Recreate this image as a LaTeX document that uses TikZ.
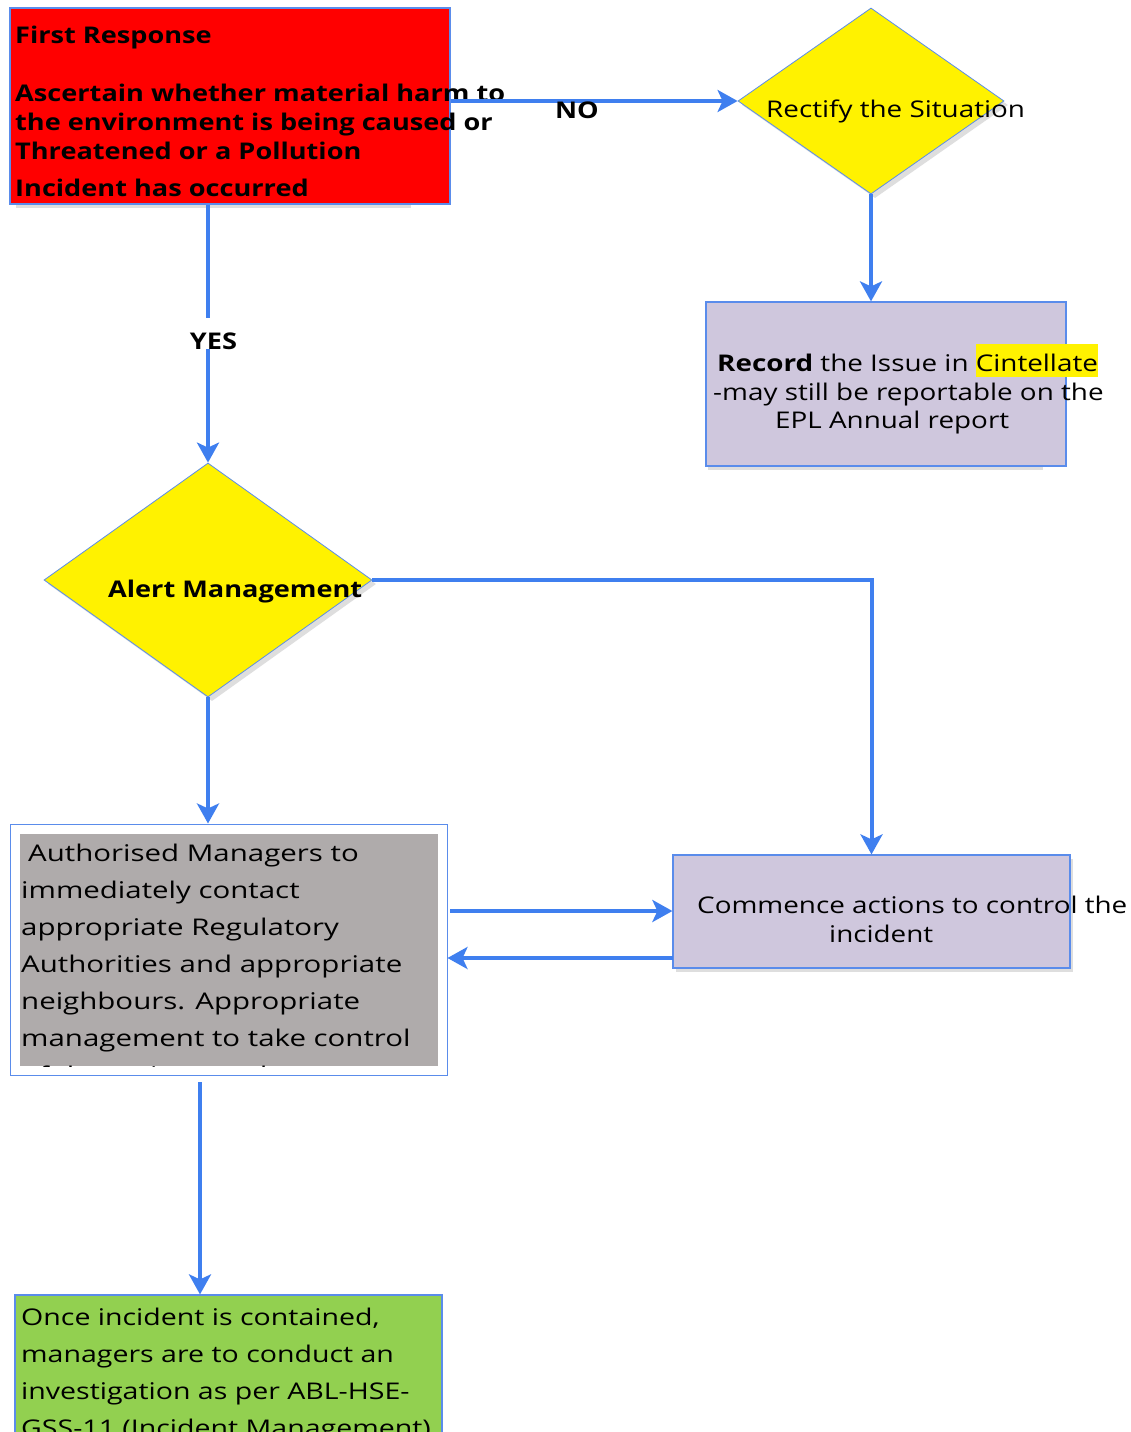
\documentclass[tikz,border=0pt]{standalone}
\usepackage{fontspec}
\setmainfont{Open Sans}[FakeStretch=1.21]
\newfontfamily\boldfam{Open Sans}[FakeStretch=1.18]
\newfontfamily\authfam{Open Sans}[FakeStretch=1.28]
\newfontfamily\greenfam{Open Sans}[FakeStretch=1.24]
\usetikzlibrary{arrows.meta,shapes.geometric}
\definecolor{lineblue}{HTML}{3F7FEF}
\definecolor{edgeblue}{HTML}{5A8CEB}
\definecolor{lav}{HTML}{CFC7DD}
\definecolor{grayfill}{HTML}{AFABAB}
\definecolor{grn}{HTML}{92D050}
\definecolor{shadowgray}{HTML}{DEDEDE}
\newcommand{\regfont}{\fontsize{23}{29}\selectfont}
\newcommand{\wideregfont}{\fontsize{23}{37}\selectfont}
\begin{document}
\begin{tikzpicture}[x=1pt,y=-1pt,
  conn/.style={draw=lineblue, line width=4pt, -{Stealth[length=20pt,width=22pt,inset=5pt]}},
  boxshape/.style={rectangle, draw=edgeblue, line width=1.2pt, inner sep=0pt},
  shadowbox/.style={rectangle, fill=shadowgray, inner sep=0pt},
  dia/.style={diamond, draw=edgeblue, line width=0.8pt, fill=yellow, inner sep=0pt},
  shadowdia/.style={diamond, fill=shadowgray, inner sep=0pt},
  txt/.style={inner sep=0pt, font=\regfont, anchor=base west},
  boldtxt/.style={inner sep=0pt, font=\regfont\boldfam\bfseries, anchor=base west}]
\useasboundingbox (0,0) rectangle (1130,1432);
\clip (0,0) rectangle (1130,1432);
\fill[white] (0,0) rectangle (1130,1432);

% shadows
\node[shadowbox, minimum width=395, minimum height=196] (redsh) at (213,110) {};
\node[shadowdia, minimum width=266, minimum height=186] (rectsh) at (875,105) {};
\node[shadowbox, minimum width=335, minimum height=164] (recordsh) at (875,388) {};
\node[shadowdia, minimum width=328, minimum height=234] (alertsh) at (212,584) {};
\node[shadowbox, minimum width=397, minimum height=113] (commsh) at (874,915) {};

% shapes
\node[boxshape, fill=red, minimum width=440, minimum height=196] (red) at (230,106) {};
\node[dia, minimum width=266, minimum height=186] (rect) at (871,101) {};
\node[boxshape, fill=lav, minimum width=360, minimum height=164] (record) at (886,384) {};
\node[dia, minimum width=328, minimum height=234] (alert) at (208,580) {};
\node[boxshape, fill=white, line width=1pt, minimum width=437, minimum height=251] (auth) at (228.5,949.5) {};
\node[rectangle, fill=grayfill, inner sep=0pt, minimum width=418, minimum height=232] (authin) at (229,950) {};
\node[boxshape, fill=lav, minimum width=397, minimum height=113] (comm) at (871.5,911.5) {};
\node[boxshape, fill=grn, minimum width=427, minimum height=160] (green) at (228.5,1375) {};

% texts
\node[boldtxt] (t1) at (15,43) {First Response};
\node[boldtxt] (t2) at (15,101) {\begin{tabular}[t]{@{}l@{}}Ascertain whether material harm to\\ the environment is being caused or\\ Threatened or a Pollution\end{tabular}};
\node[boldtxt] (t3) at (15,196) {Incident has occurred};
\node[txt] (t4) at (766,117) {Rectify the Situation};
\node[txt] (t5) at (717,371) {\textbf{Record} the Issue in {\setlength{\fboxsep}{0pt}\colorbox{yellow}{\rule[-6pt]{0pt}{33pt}Cintellate}}};
\node[txt] (t6) at (713,400) {-may still be reportable on the};
\node[txt] (t7) at (775,428) {EPL Annual report};
\node[boldtxt] (t8) at (108,597) {Alert Management};
\node[txt] (t9) at (697,913) {Commence actions to control the};
\node[txt] (t10) at (829,942) {incident};
\begin{scope}
\clip (authin.north west) rectangle (authin.south east);
\node[txt, font=\wideregfont\authfam] (t11) at (21,861) {\begin{tabular}[t]{@{}l@{}}\hspace*{7pt}Authorised Managers to\\ immediately contact\\ appropriate Regulatory\\ Authorities and appropriate\\ neighbours. Appropriate\\ management to take control\\ of the actions and events\end{tabular}};
\end{scope}
\node[txt, font=\wideregfont\greenfam] (t12) at (21,1325) {\begin{tabular}[t]{@{}l@{}}Once incident is contained,\\ managers are to conduct an\\ investigation as per ABL-HSE-\\ GSS-11 (Incident Management)\end{tabular}};

% connectors
\coordinate (a1) at (450,911);
\coordinate (c1) at (673,958);
\coordinate (a2) at (200,1082);
\draw[conn] (red.east |- rect.west) -- (rect.west);
\draw[conn] (rect.south) -- (rect.south |- record.north);
\draw[conn] (alert.north |- red.south) -- (alert.north);
\draw[conn] (alert.east) -| (comm.north);
\draw[conn] (alert.south) -- (alert.south |- auth.north);
\draw[conn] (a1) -- (a1 -| comm.west);
\draw[conn] (c1) -- (c1 -| auth.east);
\draw[conn] (a2) -- (a2 |- green.north);

% labels
\node[boldtxt, anchor=base] (no) at (577,118) {NO};
\node[boldtxt, anchor=base, fill=white, text height=31pt, text depth=0pt] (yes) at (213.5,349) {YES};
\end{tikzpicture}
\end{document}
